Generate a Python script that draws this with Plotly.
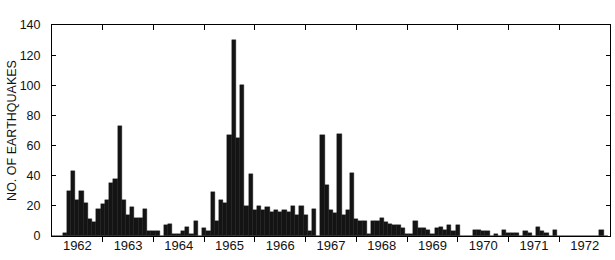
import plotly.graph_objects as go

# Monthly number of earthquakes, one list per year (Jan..Dec)
counts_1962 = [0, 0, 0, 2, 30, 43, 24, 30, 22, 11, 9, 18]
counts_1963 = [21, 24, 35, 38, 73, 24, 14, 19, 12, 12, 18, 3]
counts_1964 = [3, 3, 0, 7, 8, 1, 1, 3, 6, 1, 10, 0]
counts_1965 = [5, 3, 29, 10, 24, 22, 67, 130, 65, 100, 20, 41]
counts_1966 = [17, 20, 17, 19, 16, 17, 16, 17, 16, 20, 14, 20]
counts_1967 = [14, 3, 18, 0, 67, 34, 17, 15, 68, 14, 17, 42]
counts_1968 = [11, 10, 10, 1, 10, 10, 12, 9, 8, 7, 7, 5]
counts_1969 = [1, 1, 10, 5, 5, 4, 1, 5, 6, 4, 7, 3]
counts_1970 = [7, 0, 0, 0, 4, 4, 3, 3, 0, 1, 0, 4]
counts_1971 = [2, 2, 2, 0, 3, 2, 0, 6, 3, 2, 0, 4]
counts_1972 = [0, 0, 0, 0, 0, 0, 0, 0, 0, 0, 4, 0]

years = [1962, 1963, 1964, 1965, 1966, 1967, 1968, 1969, 1970, 1971, 1972]
year_labels = [str(y) for y in years]
y_ticks = [0, 20, 40, 60, 80, 100, 120, 140]

per_year = [counts_1962, counts_1963, counts_1964, counts_1965, counts_1966,
            counts_1967, counts_1968, counts_1969, counts_1970, counts_1971,
            counts_1972]

x_vals, y_vals = [], []
for yr, counts in zip(years, per_year):
    for m, c in enumerate(counts):
        x_vals.append(yr + m / 12.0)
        y_vals.append(c)

FONT = "Liberation Sans, Arial, sans-serif"
x_range = [years[0], years[-1] + 1]
boundaries = [y for y in years[1:]]

fig = go.Figure()
fig.add_trace(go.Bar(
    x=x_vals, y=y_vals, width=1 / 12.0,
    marker=dict(color="#141414", line=dict(color="#141414", width=0.4)),
    showlegend=False, hoverinfo="x+y",
))
# helper (empty) trace so the top/right overlay axes are rendered
fig.add_trace(go.Scatter(x=[], y=[], xaxis="x2", yaxis="y2", showlegend=False))

fig.update_layout(
    width=615, height=260,
    margin=dict(l=52, r=5, t=25, b=24),
    paper_bgcolor="white", plot_bgcolor="white",
    bargap=0,
    font=dict(family=FONT, color="black", size=12),
    xaxis=dict(
        range=x_range, showgrid=False, zeroline=False,
        showline=True, linecolor="black", linewidth=1, mirror=True,
        tickmode="array", tickvals=[y + 0.5 for y in years], ticktext=year_labels,
        ticks="", tickfont=dict(size=13, family=FONT, color="#111"),
        ticklabelstandoff=-3,
        minor=dict(tickmode="array", tickvals=boundaries, ticks="outside",
                   ticklen=5, tickcolor="black", tickwidth=1, showgrid=False),
    ),
    xaxis2=dict(
        range=x_range, overlaying="x", side="top", anchor="y",
        showgrid=False, zeroline=False, showline=False,
        tickmode="array", tickvals=boundaries, ticks="inside", ticklen=5,
        tickcolor="black", showticklabels=False,
    ),
    yaxis=dict(
        range=[0, 140], showgrid=False, zeroline=False,
        showline=True, linecolor="black", linewidth=1, mirror=True,
        tickmode="array", tickvals=y_ticks, ticks="inside", ticklen=4,
        tickcolor="black", tickfont=dict(size=12.5, family=FONT, color="#111"),
        ticklabelstandoff=8,
        title=dict(text="NO. OF EARTHQUAKES", standoff=0,
                   font=dict(size=12.5, family=FONT, color="#111")),
    ),
    yaxis2=dict(
        range=[0, 140], overlaying="y", side="right", anchor="x",
        showgrid=False, zeroline=False, showline=False,
        tickmode="array", tickvals=y_ticks, ticks="inside", ticklen=4,
        tickcolor="black", showticklabels=False,
    ),
)

fig.write_html("out.html")
